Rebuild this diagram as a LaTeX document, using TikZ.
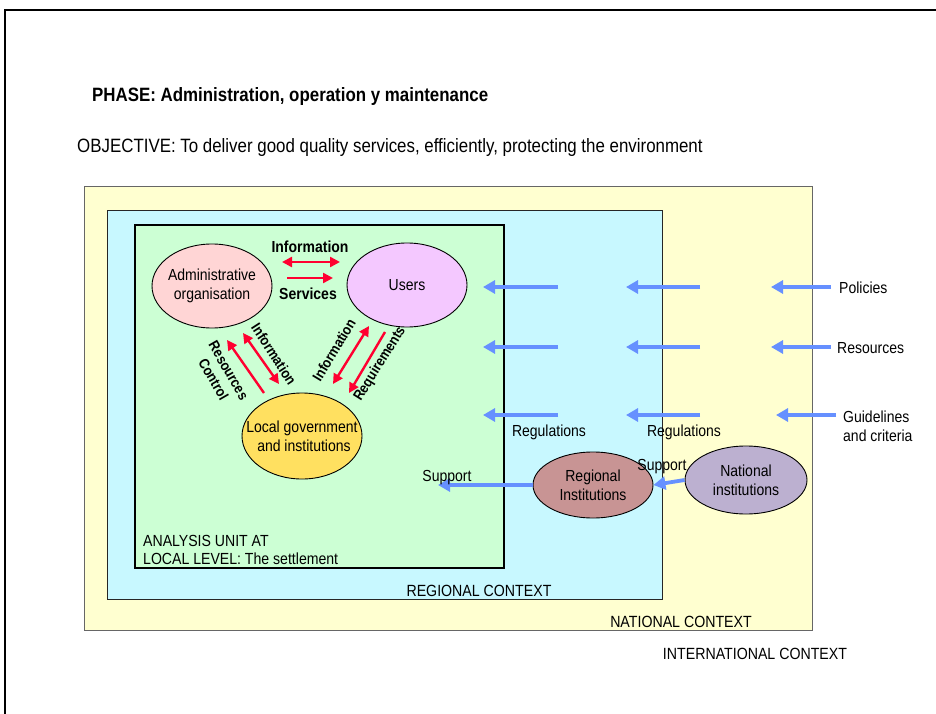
\documentclass[tikz,border=0pt]{standalone}
\usepackage{fontspec}
\setmainfont[FakeStretch=0.875]{Liberation Sans}
\usetikzlibrary{shapes.geometric,arrows.meta}
\definecolor{natfill}{HTML}{FFFFD0}
\definecolor{regfill}{HTML}{C8F8FF}
\definecolor{locfill}{HTML}{CCFFD4}
\definecolor{adminfill}{HTML}{FFD5D5}
\definecolor{usersfill}{HTML}{F4C8FF}
\definecolor{govfill}{HTML}{FFE060}
\definecolor{regifill}{HTML}{C89494}
\definecolor{natifill}{HTML}{BCB0D0}
\definecolor{redarr}{HTML}{FF0030}
\definecolor{bluearr}{HTML}{6690FF}
\tikzset{
  txt/.style={font=\fontsize{16}{18}\selectfont, inner sep=0pt},
  ctx/.style={font=\fontsize{16.2}{19}\selectfont, inner sep=0pt},
  head/.style={font=\fontsize{19.3}{21}\selectfont, inner sep=0pt},
  boldtxt/.style={font=\bfseries\fontsize{16}{18}\selectfont, inner sep=0pt},
  rottxt/.style={font=\bfseries\fontsize{14.5}{17.5}\selectfont, inner sep=0pt},
  ell/.style={ellipse, draw=black, line width=0.9pt, inner sep=-16pt, align=center,
     font=\fontsize{16}{19}\selectfont},
  redone/.style={draw=redarr, line width=2.4pt, -{Triangle[length=10pt,width=10pt]}},
  redtwo/.style={draw=redarr, line width=2.4pt, {Triangle[length=10pt,width=10pt]}-{Triangle[length=10pt,width=10pt]}},
  blue/.style={draw=bluearr, line width=3.8pt, -{Triangle[length=12pt,width=13pt]}},
}
\begin{document}
\begin{tikzpicture}[x=1pt,y=-1pt]
\useasboundingbox (0,0) rectangle (936,714);
% outer frame
\draw[line width=1.5pt] (5,714) -- (5,10) -- (936,10);
% context rectangles
\filldraw[fill=natfill, draw=black!60, line width=1pt] (84,186) rectangle (812,630);
\filldraw[fill=regfill, draw=black!85, line width=1pt] (107,210) rectangle (662,599);
\filldraw[fill=locfill, draw=black, line width=1.4pt] (135,225) rectangle (504,568);
% titles
\node[head, font=\bfseries\fontsize{19.3}{21}\selectfont, anchor=west] (phase) at (92,97) {PHASE: Administration, operation y maintenance};
\node[head, anchor=west] (obj) at (77,148) {OBJECTIVE: To deliver good quality services, efficiently, protecting the environment};
% context labels
\node[ctx, anchor=west, align=left, font=\fontsize{16.1}{17.5}\selectfont] (unit) at (143,550) {ANALYSIS UNIT AT\\LOCAL LEVEL: The settlement};
\node[ctx] (regctx) at (479,591) {REGIONAL CONTEXT};
\node[ctx] (natctx) at (681,622) {NATIONAL CONTEXT};
\node[ctx] (intctx) at (755,654) {INTERNATIONAL CONTEXT};
% ellipses
\node[ell, fill=adminfill, minimum width=120pt, minimum height=84pt] (admin) at (212,286) {Administrative\\organisation};
\node[ell, fill=usersfill, minimum width=120pt, minimum height=84pt] (users) at (407,285) {Users};
\node[ell, fill=govfill, minimum width=120pt, minimum height=86pt] (gov) at (302,436) {Local government\\\ and institutions};
\node[ell, fill=regifill, minimum width=120pt, minimum height=66pt] (regi) at (593,485) {Regional\\Institutions};
\node[ell, fill=natifill, minimum width=122pt, minimum height=68pt] (nati) at (746,480) {National\\institutions};
% red arrows admin-users
\coordinate (a1) at (282,262); \coordinate (u1) at (340,262);
\draw[redtwo] (a1) -- (u1);
\coordinate (a2) at (287,278); \coordinate (u2) at (333,278);
\draw[redone] (a2) -- (u2);
\node[boldtxt] (linfo) at (310,247) {Information};
\node[boldtxt] (lserv) at (308,294) {Services};
% red arrows admin-gov
\coordinate (a3) at (243,333); \coordinate (g3) at (279,384);
\draw[redtwo] (a3) -- (g3);
\coordinate (g4) at (264,393); \coordinate (a4) at (227,340);
\draw[redone] (g4) -- (a4);
\node[rottxt, rotate=-57] (linfo2) at (274,354) {Information};
\node[rottxt, rotate=-60, align=center] (lres) at (221,375) {Resources\\Control};
% red arrows users-gov
\coordinate (u5) at (369,326); \coordinate (g5) at (333,384);
\draw[redtwo] (u5) -- (g5);
\coordinate (u6) at (385,332); \coordinate (g6) at (349,393);
\draw[redone] (u6) -- (g6);
\node[rottxt, rotate=59] (linfo3) at (334,350) {Information};
\node[rottxt, rotate=58] (lreq) at (380,364) {Requirements};
% blue arrows
\foreach \y/\n in {287/1,347/2,415/3}{
  \coordinate (p\n a) at (558,\y); \coordinate (q\n a) at (483,\y);
  \coordinate (p\n b) at (700,\y); \coordinate (q\n b) at (626,\y);
  \draw[blue] (p\n a) -- (q\n a);
  \draw[blue] (p\n b) -- (q\n b);
}
\coordinate (p1c) at (831,287); \coordinate (q1c) at (771,287);
\coordinate (p2c) at (831,347); \coordinate (q2c) at (771,347);
\coordinate (p3c) at (836,415); \coordinate (q3c) at (776,415);
\draw[blue] (p1c) -- (q1c);
\draw[blue] (p2c) -- (q2c);
\draw[blue] (p3c) -- (q3c);
\node[txt, anchor=west] (pol) at (839,288) {Policies};
\node[txt, anchor=west] (res) at (837,348) {Resources};
\node[txt, anchor=west, align=left, font=\fontsize{16}{19}\selectfont] (guide) at (843,426) {Guidelines\\and criteria};
\node[txt] (reg1) at (549,432) {Regulations};
\node[txt] (reg2) at (684,432) {Regulations};
% support arrows
\coordinate (s1) at (438,485);
\draw[blue] (regi.west) -- (s1);
\draw[blue] (nati.west) -- (regi.east);
\node[txt] (sup1) at (447,478) {Support};
\node[txt] (sup2) at (662,467) {Support};
\end{tikzpicture}
\end{document}
